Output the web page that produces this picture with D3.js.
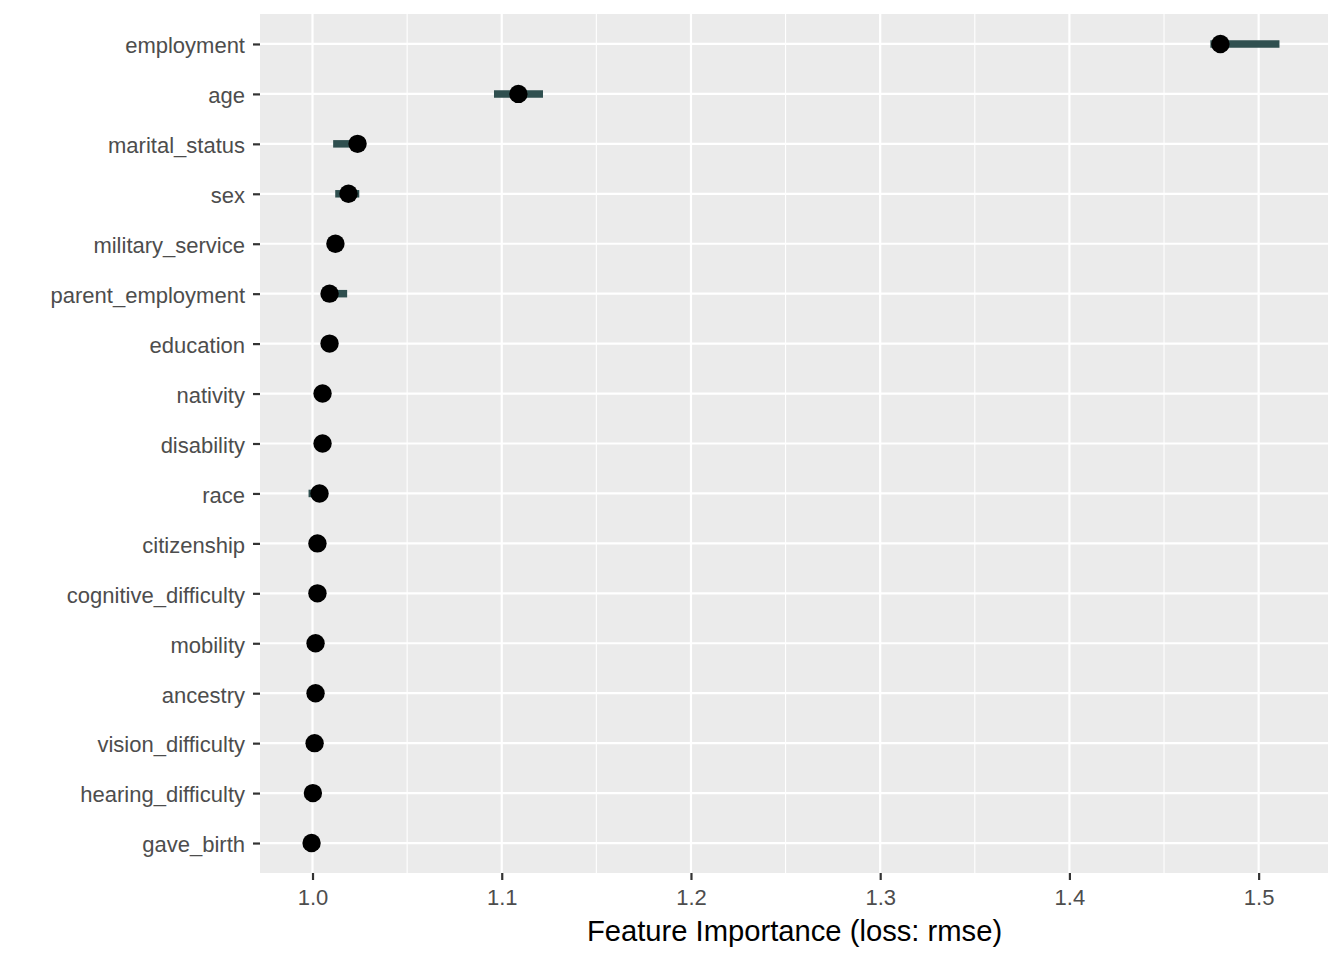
<!DOCTYPE html>
<html><head><meta charset="utf-8">
<script src="https://cdn.jsdelivr.net/npm/d3@7"></script>
<style>body{margin:0;background:#fff}</style>
</head><body>
<svg id="c" width="1344" height="960"></svg>
<script>
const features = ["employment","age","marital_status","sex","military_service","parent_employment","education","nativity","disability","race","citizenship","cognitive_difficulty","mobility","ancestry","vision_difficulty","hearing_difficulty","gave_birth"];
const importance = [1.4798,1.1088,1.0238,1.0190,1.0121,1.0090,1.0090,1.0053,1.0053,1.0037,1.0026,1.0026,1.0016,1.0016,1.0011,1.0002,0.9995];
const lower = [1.4745,1.0959,1.0109,1.0120,1.0110,1.0060,1.0085,1.0048,1.0048,0.9979,1.0022,1.0022,1.0012,1.0012,1.0007,0.9998,0.9990];
const upper = [1.5110,1.1218,1.0260,1.0247,1.0130,1.0183,1.0095,1.0058,1.0058,1.0040,1.0030,1.0030,1.0020,1.0020,1.0015,1.0006,1.0000];
const xTicks = [1.0,1.1,1.2,1.3,1.4,1.5];

const svg = d3.select("#c");
const L = 260, R = 1328, T = 14, B = 873;
const lo = d3.min(lower), hi = d3.max(upper), pad = (hi - lo) * 0.05;
const x = d3.scaleLinear().domain([lo - pad, hi + pad]).range([L, R]);
const y = d3.scalePoint().domain(features).range([T, B]).padding(0.6);
const font = "Liberation Sans, Arial, sans-serif";

svg.append("rect").attr("x", L).attr("y", T).attr("width", R - L).attr("height", B - T).attr("fill", "#EBEBEB");
const minor = xTicks.slice(0, -1).map((t, i) => (t + xTicks[i + 1]) / 2).concat([xTicks[0] - 0.05, xTicks[xTicks.length-1] + 0.05]).filter(v => x(v) > L && x(v) < R);
svg.selectAll(".mn").data(minor).enter().append("line")
  .attr("x1", d => x(d)).attr("x2", d => x(d)).attr("y1", T).attr("y2", B)
  .attr("stroke", "#fff").attr("stroke-width", 1.1);
svg.selectAll(".mjx").data(xTicks).enter().append("line")
  .attr("x1", d => x(d)).attr("x2", d => x(d)).attr("y1", T).attr("y2", B)
  .attr("stroke", "#fff").attr("stroke-width", 2.2);
svg.selectAll(".mjy").data(features).enter().append("line")
  .attr("x1", L).attr("x2", R).attr("y1", d => y(d)).attr("y2", d => y(d))
  .attr("stroke", "#fff").attr("stroke-width", 2.2);

// intervals
svg.selectAll(".bar").data(features).enter().append("line")
  .attr("x1", (d, i) => x(lower[i])).attr("x2", (d, i) => x(upper[i]))
  .attr("y1", d => y(d)).attr("y2", d => y(d))
  .attr("stroke", "#2F4F4F").attr("stroke-width", 7.5);
svg.selectAll(".pt").data(features).enter().append("circle")
  .attr("cx", (d, i) => x(importance[i])).attr("cy", d => y(d)).attr("r", 9.2).attr("fill", "#000");

// axes
const xa = svg.append("g").attr("transform", `translate(0,${B})`)
  .call(d3.axisBottom(x).tickValues(xTicks).tickFormat(d3.format(".1f")).tickSize(7).tickPadding(9));
xa.select(".domain").remove();
xa.selectAll("line").attr("stroke", "#333").attr("stroke-width", 2.2);
xa.selectAll("text").attr("fill", "#4D4D4D").style("font-family", font).style("font-size", "22px");

const ya = svg.append("g").attr("transform", `translate(${L},0)`)
  .call(d3.axisLeft(y).tickSize(7).tickPadding(8));
ya.select(".domain").remove();
ya.selectAll("line").attr("stroke", "#333").attr("stroke-width", 2.2);
ya.selectAll("text").attr("fill", "#4D4D4D").attr("dy", "0.4em").style("font-family", font).style("font-size", "22px");

svg.append("text").attr("x", (L + R) / 2 + 0.5).attr("y", 941).attr("text-anchor", "middle")
  .style("font-family", font).style("font-size", "29.2px").attr("fill", "#000")
  .text("Feature Importance (loss: rmse)");
</script>
</body></html>
